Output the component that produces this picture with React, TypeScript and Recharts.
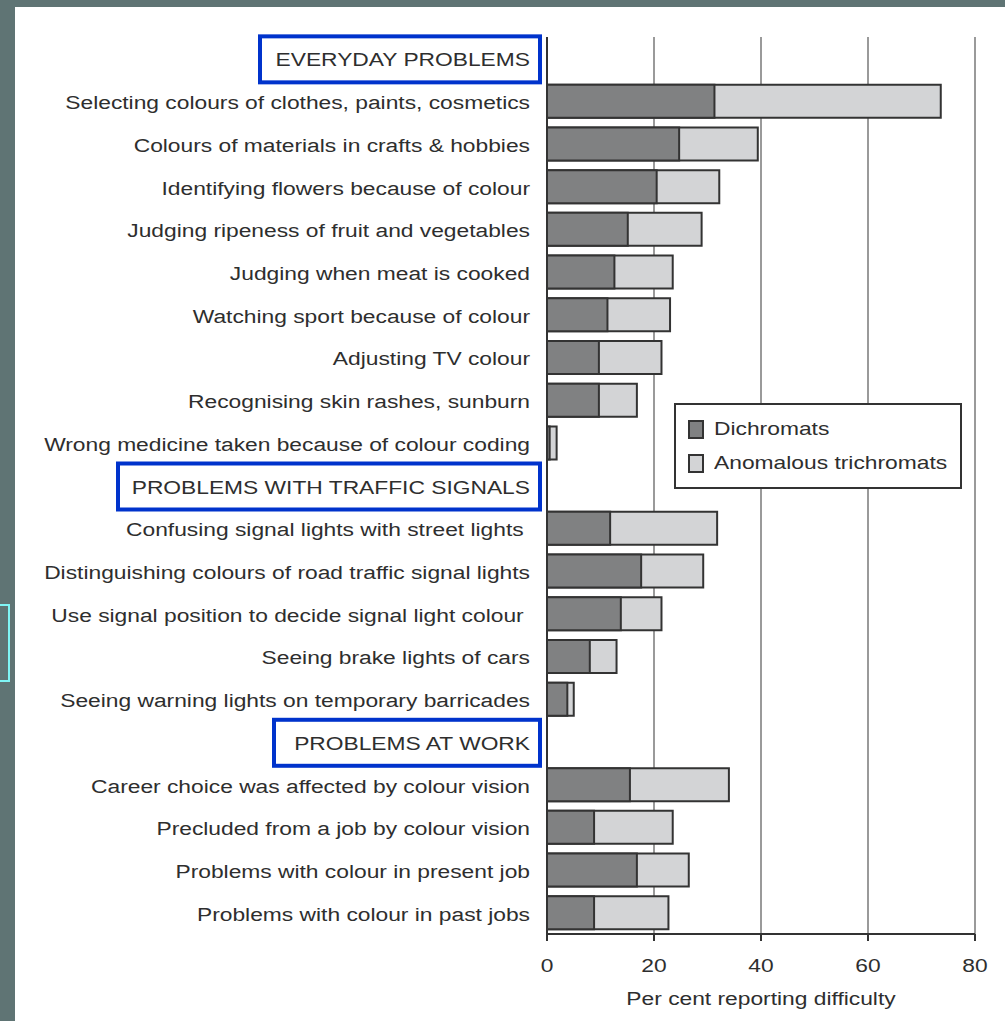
import { BarChart, Bar, XAxis, YAxis, CartesianGrid } from "recharts"

// categories, top to bottom; section headers have no bars
const labels = [
  "EVERYDAY PROBLEMS",
  "Selecting colours of clothes, paints, cosmetics",
  "Colours of materials in crafts & hobbies",
  "Identifying flowers because of colour",
  "Judging ripeness of fruit and vegetables",
  "Judging when meat is cooked",
  "Watching sport because of colour",
  "Adjusting TV colour",
  "Recognising skin rashes, sunburn",
  "Wrong medicine taken because of colour coding",
  "PROBLEMS WITH TRAFFIC SIGNALS",
  "Confusing signal lights with street lights\u00a0",
  "Distinguishing colours of road traffic signal lights",
  "Use signal position to decide signal light colour\u00a0",
  "Seeing brake lights of cars",
  "Seeing warning lights on temporary barricades",
  "PROBLEMS AT WORK",
  "Career choice was affected by colour vision",
  "Precluded from a job by colour vision",
  "Problems with colour in present job",
  "Problems with colour in past jobs",
]

// per cent reporting difficulty (bar ends as read)
const dichromats = [
  null, 31.3, 24.7, 20.5, 15.1, 12.6, 11.3, 9.7, 9.7, 0.5,
  null, 11.8, 17.6, 13.8, 8.0, 3.8,
  null, 15.5, 8.8, 16.8, 8.8,
]
const anomalous = [
  null, 73.6, 39.4, 32.2, 28.9, 23.5, 23.0, 21.4, 16.8, 1.8,
  null, 31.8, 29.2, 21.4, 13.0, 5.0,
  null, 34.0, 23.5, 26.5, 22.7,
]

const xTicks = [0, 20, 40, 60, 80]

const data = labels.map((label, i) => ({
  label,
  dichromats: dichromats[i],
  anomalous: anomalous[i],
}))

const DARK = "#808182"
const LIGHT = "#d3d4d6"
const EDGE = "#333333"
const TEXT = "#2e2e2e"
const FONT = "'Liberation Sans', Arial, sans-serif"
const FS = 19
const SX = 1.2 // the original lettering is a bit wide

// widths of the blue frames around the section headers
const boxWidths: Record<string, number> = {
  "EVERYDAY PROBLEMS": 280,
  "PROBLEMS WITH TRAFFIC SIGNALS": 422,
  "PROBLEMS AT WORK": 266,
}

const WideText = ({ x, y, anchor, children }: any) => (
  <g transform={`translate(${x},${y}) scale(${SX},1)`}>
    <text
      x={0}
      y={0}
      textAnchor={anchor}
      fill={TEXT}
      fontSize={FS}
      fontFamily={FONT}
      style={{ whiteSpace: "pre" }}
    >
      {children}
    </text>
  </g>
)

const CategoryTick = (props: any) => {
  const { x, y, payload } = props
  const text = payload.value as string
  const w = boxWidths[text]
  return (
    <g>
      {w && (
        <rect
          x={x + 1 - w}
          y={y - 22}
          width={w}
          height={46}
          fill="none"
          stroke="#0033cc"
          strokeWidth={4}
        />
      )}
      <WideText x={x - 9} y={y + 8} anchor="end">
        {text}
      </WideText>
    </g>
  )
}

const ValueTick = (props: any) => {
  const { x, y, payload } = props
  return (
    <WideText x={x} y={y + 31} anchor="middle">
      {payload.value}
    </WideText>
  )
}

const AxisTitle = (props: any) => {
  const { viewBox } = props
  return (
    <WideText x={viewBox.x + viewBox.width / 2} y={viewBox.y + 71} anchor="middle">
      Per cent reporting difficulty
    </WideText>
  )
}

const legendItems = [
  { name: "Dichromats", fill: DARK },
  { name: "Anomalous trichromats", fill: LIGHT },
]

export default function App() {
  return (
    <div
      style={{
        position: "absolute",
        left: 0,
        top: 0,
        width: 1005,
        height: 1021,
        background: "#5f7474",
        overflow: "hidden",
      }}
    >
      {/* white slide panel */}
      <div
        style={{
          position: "absolute",
          left: 15,
          top: 7,
          width: 990,
          height: 1014,
          background: "#fff",
        }}
      />
      {/* small cyan frame on the left edge */}
      <div
        style={{
          position: "absolute",
          left: -4,
          top: 604,
          width: 10,
          height: 74,
          border: "2px solid #7ff5f5",
        }}
      />
      <div style={{ position: "absolute", left: 0, top: 0 }}>
        <BarChart
          width={1005}
          height={1021}
          layout="vertical"
          data={data}
          margin={{ top: 37, right: 30, bottom: 27, left: 0 }}
          barSize={33}
          barGap={-33}
        >
          <CartesianGrid horizontal={false} stroke="#9a9a9a" strokeWidth={2} />
          <XAxis
            type="number"
            domain={[0, 80]}
            ticks={xTicks}
            height={60}
            axisLine={{ stroke: EDGE, strokeWidth: 2 }}
            tickLine={{ stroke: EDGE, strokeWidth: 2 }}
            tickSize={7}
            tickMargin={0}
            tick={<ValueTick />}
            label={(p: any) => <AxisTitle {...p} />}
          />
          <YAxis
            type="category"
            dataKey="label"
            width={547}
            interval={0}
            axisLine={{ stroke: EDGE, strokeWidth: 2 }}
            tickLine={false}
            tick={<CategoryTick />}
          />
          <Bar
            dataKey="anomalous"
            name="Anomalous trichromats"
            fill={LIGHT}
            stroke={EDGE}
            strokeWidth={2}
            isAnimationActive={false}
          />
          <Bar
            dataKey="dichromats"
            name="Dichromats"
            fill={DARK}
            stroke={EDGE}
            strokeWidth={2}
            isAnimationActive={false}
          />
        </BarChart>
      </div>
      {/* legend */}
      <div
        style={{
          position: "absolute",
          left: 674,
          top: 403,
          width: 288,
          height: 86,
          boxSizing: "border-box",
          border: "2px solid #333",
          background: "#fff",
          fontFamily: FONT,
          fontSize: FS,
          color: TEXT,
          paddingTop: 7,
          paddingLeft: 12,
        }}
      >
        {legendItems.map((item) => (
          <div key={item.name} style={{ display: "flex", alignItems: "center", height: 34 }}>
            <span
              style={{
                display: "inline-block",
                width: 12,
                height: 15,
                background: item.fill,
                border: "2px solid #333",
                marginRight: 10,
              }}
            />
            <span style={{ display: "inline-block", transform: `scaleX(${SX})`, transformOrigin: "left center" }}>
              {item.name}
            </span>
          </div>
        ))}
      </div>
    </div>
  )
}
